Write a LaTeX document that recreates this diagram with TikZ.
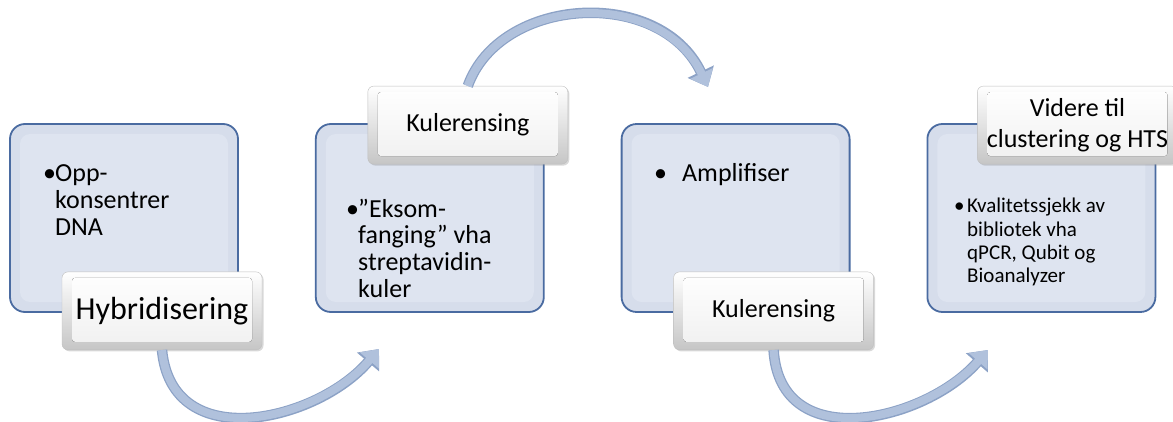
\documentclass[tikz,border=0pt]{standalone}
\usepackage{fontspec}
\setmainfont{Carlito}
\usetikzlibrary{positioning,arrows.meta,shadows}

\definecolor{boxfill}{HTML}{D6DDEB}
\definecolor{boxglow}{HTML}{DEE4F0}
\definecolor{boxline}{HTML}{4A6BA1}
\definecolor{flowfill}{HTML}{B0C1DC}
\definecolor{flowline}{HTML}{8CA2C6}

\tikzset{
	stepbox/.style={minimum width=228pt, minimum height=188pt, rounded corners=15pt,
		draw=boxline, line width=1.8pt, fill=boxfill,
		path picture={\fill[boxglow, rounded corners=10pt]
			([shift={(10pt,-10pt)}]path picture bounding box.north west) rectangle
			([shift={(-10pt,10pt)}]path picture bounding box.south east);}},
	tag/.style={minimum width=200pt, minimum height=78pt, rounded corners=6pt,
		draw=gray!50, top color=white, bottom color=gray!45, align=center,
		drop shadow={opacity=0.3, shadow xshift=1.5pt, shadow yshift=-1.5pt},
		font=\fontsize{26}{31}\selectfont,
		path picture={\fill[top color=white, bottom color=gray!12, rounded corners=3pt]
			([shift={(10pt,-6pt)}]path picture bounding box.north west) rectangle
			([shift={(-10pt,8pt)}]path picture bounding box.south east);}},
	itemtext/.style={anchor=base west, inner sep=0pt, align=left},
	flow/.style={line width=8pt, draw=flowfill, -{Triangle[width=24pt,length=15pt]},
		preaction={draw=flowline, line width=10.5pt, -{Triangle[width=28pt,length=17pt]}}}
}

\begin{document}
\begin{tikzpicture}[x=1pt,y=1pt]
	\useasboundingbox (0,0) rectangle (1173,421);

	%Boxes
	\node[stepbox] (b1) at (124,203) {};
	\node[stepbox, right=76pt of b1] (b2) {};
	\node[stepbox, right=76pt of b2] (b3) {};
	\node[stepbox, right=76pt of b3] (b4) {};

	%Box texts
	\node[itemtext, font=\fontsize{26}{26.7}\selectfont] (i1) at (43,239) {%
		\begin{tabular}[t]{@{}l@{}l@{}}\makebox[12pt][l]{•}&Opp-\\ &konsentrer\\ &DNA\end{tabular}};
	\node[itemtext, font=\fontsize{26}{26.7}\selectfont] (i2) at (346,204) {%
		\begin{tabular}[t]{@{}l@{}l@{}}\makebox[12pt][l]{•}&”Eksom-\\ &fanging” vha\\ &streptavidin-\\ &kuler\end{tabular}};
	\node[itemtext, font=\fontsize{26}{26.7}\selectfont] (i3) at (654,239) {%
		\begin{tabular}[t]{@{}l@{}l@{}}\makebox[28pt][l]{•}&Amplifiser\end{tabular}};
	\node[itemtext, font=\fontsize{21}{23.3}\selectfont] (i4) at (954,208) {%
		\begin{tabular}[t]{@{}l@{}l@{}}\makebox[13pt][l]{•}&Kvalitetssjekk av\\ &bibliotek vha\\ &qPCR, Qubit og\\ &Bioanalyzer\end{tabular}};

	%Labels
	\node[tag, font=\fontsize{32}{36}\selectfont] (t1) at ([shift={(38pt,2pt)}]b1.south) {Hybridisering};
	\node[tag] (t2) at ([shift={(38pt,-2pt)}]b2.north) {Kulerensing};
	\node[tag] (t3) at ([shift={(38pt,2pt)}]b3.south) {Kulerensing};
	\node[tag] (t4) at ([shift={(36pt,-2pt)}]b4.north) {Videre til\\clustering og HTS};

	%Arrows
	\coordinate (h1) at (379,72);
	\coordinate (h2) at (708,334);
	\coordinate (h3) at (988,71);
	\draw[flow] (t1.south) .. controls (172,-35) and (318,0) .. (h1);
	\draw[flow] (t2.north) .. controls (500,425) and (660,435) .. (h2);
	\draw[flow] (t3.south) .. controls (780,-35) and (926,0) .. (h3);

\end{tikzpicture}
\end{document}
